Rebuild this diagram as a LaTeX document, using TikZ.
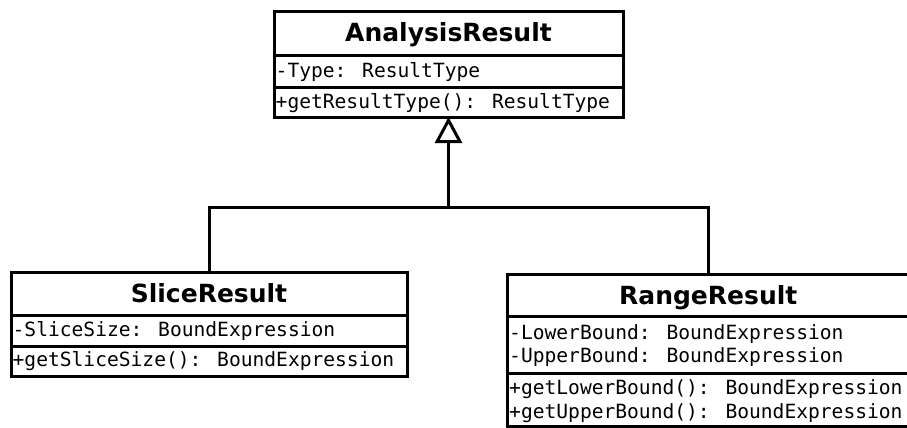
\documentclass[tikz,border=0pt]{standalone}
\usepackage{fontspec}
\newfontfamily\umltitle{DejaVu Sans}[BoldFont={DejaVu Sans Bold}]
\newfontfamily\umlmono{DejaVu Sans Mono}
\usetikzlibrary{arrows.meta}
\begin{document}
\begin{tikzpicture}[x=1pt,y=-1pt,
  comp/.style={draw=black, line width=3pt, rectangle, inner sep=0pt, outer sep=0pt, fill=white},
  classname/.style={inner sep=0pt, anchor=base, font=\umltitle\bfseries\fontsize{25}{29}\selectfont},
  member/.style={inner sep=0pt, anchor=base west, font=\umlmono\fontsize{19.6}{23}\selectfont},
  link/.style={draw=black, line width=3pt},
  gen/.style={link, -{Triangle[open, length=26pt, width=27pt, line join=miter]}}
]
\useasboundingbox (0,0) rectangle (907,428);
\clip (0,0) rectangle (907,428);
\fill[white] (0,0) rectangle (907,428);

% AnalysisResult
\node[comp, minimum width=349pt, minimum height=44pt, anchor=north west] (arhead) at (274,12) {};
\node[comp, minimum width=349pt, minimum height=31pt, anchor=north] (arattr) at (arhead.south) {};
\node[comp, minimum width=349pt, minimum height=30pt, anchor=north] (armeth) at (arattr.south) {};
\node[classname] (artitle) at (448.5,41.5) {AnalysisResult};
\node[member] (artype) at (275.5,77.5) {-Type: ResultType};
\node[member] (argettype) at (275.5,108) {+getResultType(): ResultType};

% SliceResult
\node[comp, minimum width=396pt, minimum height=43.5pt, anchor=north west] (slhead) at (11,272) {};
\node[comp, minimum width=396pt, minimum height=31pt, anchor=north] (slattr) at (slhead.south) {};
\node[comp, minimum width=396pt, minimum height=29.5pt, anchor=north] (slmeth) at (slattr.south) {};
\node[classname] (sltitle) at (209,302) {SliceResult};
\node[member] (slsize) at (12.5,336) {-SliceSize: BoundExpression};
\node[member] (slgetsize) at (12.5,366) {+getSliceSize(): BoundExpression};

% RangeResult
\node[comp, minimum width=401.5pt, minimum height=42pt, anchor=north west] (rghead) at (507.5,274.5) {};
\node[comp, minimum width=401.5pt, minimum height=57pt, anchor=north] (rgattr) at (rghead.south) {};
\node[comp, minimum width=401.5pt, minimum height=53pt, anchor=north] (rgmeth) at (rgattr.south) {};
\node[classname] (rgtitle) at (708.25,304.5) {RangeResult};
\node[member] (rglower) at (509,339) {-LowerBound: BoundExpression};
\node[member] (rgupper) at (509,362) {-UpperBound: BoundExpression};
\node[member] (rggetlower) at (509,394) {+getLowerBound(): BoundExpression};
\node[member] (rggetupper) at (509,418) {+getUpperBound(): BoundExpression};

% Generalisation
\coordinate (joint) at (armeth.south |- 0,207);
\draw[link] (slhead.north) |- (joint) -| (rghead.north);
\draw[gen] (joint) -- (armeth.south);
\end{tikzpicture}
\end{document}
